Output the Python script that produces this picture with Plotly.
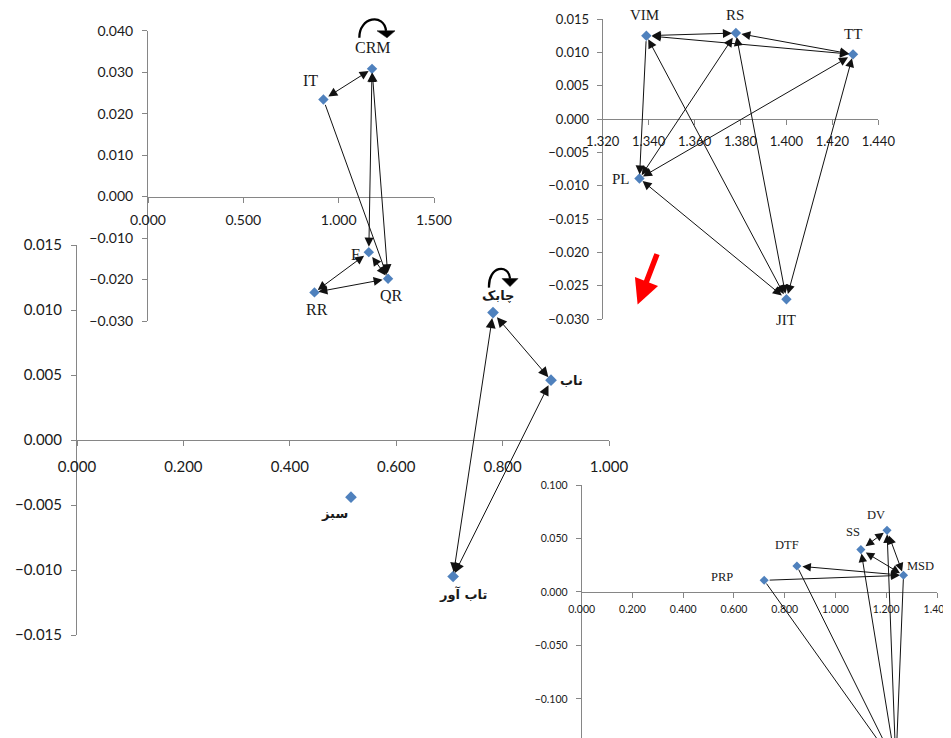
import plotly.graph_objects as go

# The page body keeps an 8px margin, so the figure is sized to end at the window edge.
WIN_W, WIN_H, BODY = 951, 738, 8
W, H = WIN_W - BODY, WIN_H - BODY

# ---------------- data ----------------
# main chart (bottom-left)
MAIN_LABELS = ["چابک", "ناب", "سبز", "تاب آور"]
MAIN_X = [0.782, 0.891, 0.515, 0.707]
MAIN_Y = [0.0098, 0.0046, -0.0044, -0.0105]
MAIN_EDGES = [("چابک", "ناب", "both"), ("چابک", "تاب آور", "both"), ("ناب", "تاب آور", "both")]
MAIN_XTICKS = [0.0, 0.2, 0.4, 0.6, 0.8, 1.0]
MAIN_YTICKS = [-0.015, -0.010, -0.005, 0.0, 0.005, 0.010, 0.015]

# top-left inset
TL_LABELS = ["CRM", "IT", "F", "QR", "RR"]
TL_X = [1.175, 0.920, 1.158, 1.259, 0.873]
TL_Y = [0.0308, 0.0234, -0.0134, -0.0198, -0.0231]
TL_EDGES = [("IT", "CRM", "both"), ("F", "CRM", "both"), ("QR", "CRM", "both"),
            ("IT", "QR", "end"), ("F", "QR", "both"), ("F", "RR", "both"), ("QR", "RR", "both")]
TL_XTICKS = [0.0, 0.5, 1.0, 1.5]
TL_YTICKS = [-0.03, -0.02, -0.01, 0.0, 0.01, 0.02, 0.03, 0.04]

# top-right inset
TR_LABELS = ["VIM", "RS", "TT", "PL", "JIT"]
TR_X = [1.339, 1.378, 1.429, 1.336, 1.400]
TR_Y = [0.0125, 0.0129, 0.0097, -0.0089, -0.0270]
TR_EDGES = [("VIM", "RS", "both"), ("VIM", "TT", "both"), ("RS", "TT", "both"),
            ("VIM", "PL", "end"), ("RS", "PL", "both"), ("TT", "PL", "both"),
            ("JIT", "PL", "both"), ("JIT", "VIM", "both"), ("JIT", "RS", "both"), ("JIT", "TT", "both")]
TR_XTICKS = [1.32, 1.34, 1.36, 1.38, 1.40, 1.42, 1.44]
TR_YTICKS = [-0.030, -0.025, -0.020, -0.015, -0.010, -0.005, 0.0, 0.005, 0.010, 0.015]

# bottom-right inset (the last node lies below the visible area)
BR_LABELS = ["PRP", "DTF", "SS", "DV", "MSD", ""]
BR_X = [0.719, 0.848, 1.100, 1.203, 1.268, 1.238]
BR_Y = [0.0109, 0.0243, 0.0396, 0.0576, 0.0156, -0.162]
BR_EDGES = [("PRP", "MSD", "end"), ("DTF", "MSD", "both"), ("SS", "DV", "both"),
            ("SS", "MSD", "both"), ("DV", "MSD", "both"),
            ("", "SS", "end"), ("", "DV", "end"), ("", "PRP", "none"), ("", "DTF", "none"), ("", "MSD", "none")]
BR_XTICKS = [0.0, 0.2, 0.4, 0.6, 0.8, 1.0, 1.2, 1.4]
BR_YTICKS = [-0.10, -0.05, 0.0, 0.05, 0.10]

# ---------------- styling ----------------
AXIS_COLOR = "#868686"
TICK_FONT = "Lato, Open Sans, sans-serif"
TEXT_COLOR = "#1a1a1a"
MARKER_COLOR = "#4F81BD"

fig = go.Figure()
AXES = {}


def dom_x(p0, p1):
    return [(p0 - BODY) / W, (p1 - BODY) / W]


def dom_y(p_bottom, p_top):
    return [(WIN_H - p_bottom) / H, (WIN_H - p_top) / H]


def sfx_of(n):
    return "" if n == 1 else str(n)


def setup_axes(n, xdom, ydom, xr, yr, xt, yt, fs, xstand, ystand):
    sfx = sfx_of(n)
    AXES[n] = (xdom, ydom, xr, yr)
    zero_pos = ydom[0] + (0 - yr[0]) / (yr[1] - yr[0]) * (ydom[1] - ydom[0])
    common = dict(showgrid=False, zeroline=False, showline=True, linecolor=AXIS_COLOR, linewidth=1,
                  ticks="outside", ticklen=5, tickcolor=AXIS_COLOR, tickwidth=1, automargin=False,
                  tickfont=dict(family=TICK_FONT, size=fs, color=TEXT_COLOR), tickformat=".3f",
                  ticklabeloverflow="allow", fixedrange=True)
    fig.layout["xaxis" + sfx] = dict(common, domain=xdom, range=xr, tickmode="array", tickvals=xt,
                                     anchor="free", position=zero_pos, ticklabelstandoff=xstand)
    fig.layout["yaxis" + sfx] = dict(common, domain=ydom, range=yr, tickmode="array", tickvals=yt,
                                     anchor="x" + sfx, ticklabelstandoff=ystand)


def to_paper(n, x, y):
    xdom, ydom, xr, yr = AXES[n]
    px = xdom[0] + (x - xr[0]) / (xr[1] - xr[0]) * (xdom[1] - xdom[0])
    py = ydom[0] + (y - yr[0]) / (yr[1] - yr[0]) * (ydom[1] - ydom[0])
    return px, py


def add_nodes(n, labels, xs, ys, msize=8):
    sfx = sfx_of(n)
    fig.add_trace(go.Scatter(x=xs, y=ys, mode="markers", text=labels, hoverinfo="text",
                             marker=dict(symbol="diamond", size=msize, color=MARKER_COLOR),
                             xaxis="x" + sfx, yaxis="y" + sfx, showlegend=False))


def add_edges(n, labels, xs, ys, edges, asize=1.8):
    sfx = sfx_of(n)
    idx = {l: i for i, l in enumerate(labels)}
    for a, b, kind in edges:
        i, j = idx[a], idx[b]
        side = {"both": "end+start", "end": "end", "none": "none"}[kind]
        fig.add_annotation(x=xs[j], y=ys[j], ax=xs[i], ay=ys[i],
                           xref="x" + sfx, yref="y" + sfx, axref="x" + sfx, ayref="y" + sfx,
                           text="", showarrow=True, arrowside=side,
                           arrowhead=2, arrowsize=asize, startarrowhead=2, startarrowsize=asize,
                           arrowwidth=1, arrowcolor="#111111", standoff=4, startstandoff=4)


def add_labels(n, labels, xs, ys, offsets, font):
    sfx = sfx_of(n)
    for lab, x, y in zip(labels, xs, ys):
        if not lab:
            continue
        dx, dy = offsets[lab]
        fig.add_annotation(x=x, y=y, xref="x" + sfx, yref="y" + sfx, text=lab, showarrow=False,
                           xshift=dx, yshift=dy, font=font, xanchor="center", yanchor="middle")


def add_loop(n, x, y, path, head):
    px, py = to_paper(n, x, y)
    base = dict(type="path", xref="paper", yref="paper", xsizemode="pixel", ysizemode="pixel",
                xanchor=px, yanchor=py)
    fig.add_shape(**base, path=path, line=dict(color="black", width=2.3))
    fig.add_shape(**base, path=head, fillcolor="black", line=dict(color="black", width=0.5))


# ---- main chart (axis id 1)
setup_axes(1, dom_x(77, 609), dom_y(635, 245), [0, 1.0], [-0.015, 0.015],
           MAIN_XTICKS, MAIN_YTICKS, 15, 8, 6)
# ---- top-left inset (2)
setup_axes(2, dom_x(148, 434), dom_y(321, 30.7), [0, 1.5], [-0.03, 0.04],
           TL_XTICKS, TL_YTICKS, 14, 6, 6)
# ---- top-right inset (3)
setup_axes(3, dom_x(602.7, 878.3), dom_y(319.3, 19), [1.32, 1.44], [-0.030, 0.015],
           TR_XTICKS, TR_YTICKS, 13, 5, 5)
# ---- bottom-right inset (4)
setup_axes(4, dom_x(581.7, 937), dom_y(738, 485), [0, 1.4], [-0.1365, 0.100],
           BR_XTICKS, BR_YTICKS, 10.5, 2, 6)

add_edges(1, MAIN_LABELS, MAIN_X, MAIN_Y, MAIN_EDGES, asize=2.0)
add_edges(2, TL_LABELS, TL_X, TL_Y, TL_EDGES, asize=1.8)
add_edges(3, TR_LABELS, TR_X, TR_Y, TR_EDGES, asize=1.8)
add_edges(4, BR_LABELS, BR_X, BR_Y, BR_EDGES, asize=1.7)

add_nodes(1, MAIN_LABELS, MAIN_X, MAIN_Y, 9)
add_nodes(2, TL_LABELS, TL_X, TL_Y, 8)
add_nodes(3, TR_LABELS, TR_X, TR_Y, 8)
add_nodes(4, BR_LABELS, BR_X, BR_Y, 7)

serif = "Liberation Serif, Times New Roman, serif"
add_labels(1, MAIN_LABELS, MAIN_X, MAIN_Y,
           {"چابک": (5, 17), "ناب": (20, 0), "سبز": (-16, -16), "تاب آور": (10, -17)},
           dict(family="DejaVu Sans", size=13, color=TEXT_COLOR, weight="bold"))
add_labels(2, TL_LABELS, TL_X, TL_Y,
           {"CRM": (1, 21), "IT": (-13, 19), "F": (-13, -2), "QR": (3, -17), "RR": (3, -17)},
           dict(family=serif, size=16, color=TEXT_COLOR))
add_labels(3, TR_LABELS, TR_X, TR_Y,
           {"VIM": (-2, 21), "RS": (-1, 18), "TT": (0, 20), "PL": (-18, -1), "JIT": (0, -21)},
           dict(family=serif, size=15, color=TEXT_COLOR))
add_labels(4, BR_LABELS, BR_X, BR_Y,
           {"PRP": (-42, 3), "DTF": (-10, 21), "SS": (-8, 18), "DV": (-11, 15), "MSD": (17, 9)},
           dict(family=serif, size=12.5, color=TEXT_COLOR))

# self-loops above CRM and چابک
add_loop(2, TL_X[0], TL_Y[0], "M -12.7 31 C -13 52, 12 56, 14 38", "M 5 38 L 23 38 L 15 31 Z")
add_loop(1, MAIN_X[0], MAIN_Y[0], "M -4 25 C -5 47, 16 49, 17 34", "M 9 34 L 25 34 L 17 26 Z")

# red arrow in the top-right area
fig.add_annotation(x=1.3352, y=-0.0278, xref="x3", yref="y3", ax=20, ay=-52, axref="pixel", ayref="pixel",
                   text="", showarrow=True, arrowhead=2, arrowsize=0.9, arrowwidth=5.5, arrowcolor="#FF0000")

fig.update_layout(width=W, height=H, margin=dict(l=0, r=0, t=0, b=0, autoexpand=False),
                  paper_bgcolor="white", plot_bgcolor="white", showlegend=False)

fig.write_html("out.html")
